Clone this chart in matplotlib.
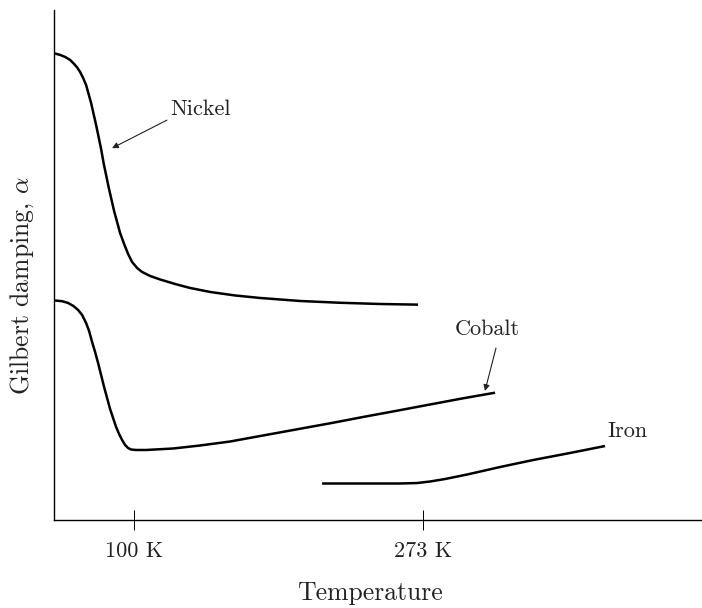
import matplotlib
matplotlib.use("Agg")
import matplotlib.pyplot as plt

plt.rcParams['font.family'] = 'serif'
plt.rcParams['font.serif'] = ['cmr10']
plt.rcParams['mathtext.fontset'] = 'cm'
plt.rcParams['axes.formatter.use_mathtext'] = True

# temperature (K) and damping (arbitrary units)
nickel_T = [52.42, 55.72, 58.71, 61.70, 64.09, 65.89, 67.68, 69.48, 71.27, 72.77,
            74.27, 75.76, 77.26, 78.76, 80.25, 81.75, 83.24, 84.74, 86.24, 88.03,
            89.83, 91.62, 94.02, 96.41, 98.80, 101.80, 104.79, 109.58, 115.56,
            124.54, 133.51, 145.48, 160.44, 175.40, 199.34, 223.28, 247.22, 269.96]
nickel_a = [9.147, 9.118, 9.078, 9.020, 8.941, 8.873, 8.784, 8.667, 8.529, 8.353,
            8.176, 7.961, 7.745, 7.510, 7.275, 7.000, 6.765, 6.529, 6.314, 6.059,
            5.843, 5.627, 5.412, 5.216, 5.059, 4.941, 4.863, 4.784, 4.716,
            4.627, 4.549, 4.471, 4.402, 4.353, 4.294, 4.259, 4.235, 4.222]

cobalt_T = [52.42, 56.91, 60.50, 63.67, 66.49, 68.88, 71.27, 73.07, 74.87, 76.66,
            78.46, 80.25, 82.05, 83.84, 85.64, 87.43, 89.23, 91.02, 92.82, 94.61,
            96.41, 98.20, 101.20, 107.18, 123.34, 139.50, 157.45, 177.20, 196.95,
            217.29, 237.04, 257.39, 277.14, 296.89, 316.04]
cobalt_a = [4.304, 4.290, 4.255, 4.196, 4.118, 4.020, 3.863, 3.706, 3.490, 3.294,
            3.078, 2.843, 2.608, 2.392, 2.176, 2.000, 1.824, 1.686, 1.569, 1.471,
            1.412, 1.382, 1.373, 1.373, 1.402, 1.461, 1.539, 1.657, 1.775,
            1.896, 2.020, 2.143, 2.265, 2.386, 2.496]

iron_T = [212.51, 235.25, 259.19, 269.36, 277.14, 286.11, 299.28, 319.03, 338.78,
          360.92, 381.87]
iron_a = [0.716, 0.716, 0.716, 0.725, 0.755, 0.804, 0.892, 1.039, 1.176, 1.314, 1.451]

tick_pos = [100, 273]
tick_labels = ['100 K', '273 K']

ink = '#222222'

fig = plt.figure(figsize=(7.02, 6.08), dpi=100)
ax = fig.add_axes([0.077, 0.1447, 0.923, 0.839])

for T, a in [(nickel_T, nickel_a), (cobalt_T, cobalt_a), (iron_T, iron_a)]:
    ax.plot(T, a, color='black', lw=1.8, solid_capstyle='butt', solid_joinstyle='round')

arrow = dict(arrowstyle='-|>', lw=0.8, color=ink, mutation_scale=9, shrinkA=0, shrinkB=0)
ax.annotate('', xy=(86.8, 7.29), xytext=(119.7, 7.84), arrowprops=arrow)
ax.annotate('', xy=(310.0, 2.53), xytext=(316.6, 3.37), arrowprops=arrow)
ax.text(139.5, 8.06, 'Nickel', fontsize=16, ha='center', va='center', color=ink)
ax.text(311.2, 3.74, 'Cobalt', fontsize=16, ha='center', va='center', color=ink)
ax.text(395.0, 1.745, 'Iron', fontsize=16, ha='center', va='center', color=ink)

ax.set_xlim(52.1, 439.9)
ax.set_ylim(0, 10)
ax.spines['top'].set_visible(False)
ax.spines['right'].set_visible(False)
ax.spines['left'].set_linewidth(1.0)
ax.spines['bottom'].set_linewidth(1.0)
ax.set_yticks([])
ax.set_xticks(tick_pos)
ax.set_xticklabels(tick_labels, fontsize=16, color=ink)
ax.tick_params(axis='x', direction='inout', length=15, width=0.7, pad=8)
ax.set_xlabel('Temperature', fontsize=18.5, color=ink)
ax.xaxis.set_label_coords(0.488, -0.12)
ax.set_ylabel(r'Gilbert damping, $\alpha$', fontsize=18.5, color=ink)
ax.yaxis.set_label_coords(-0.028, 0.459)

fig.savefig('out.png', dpi=100)
